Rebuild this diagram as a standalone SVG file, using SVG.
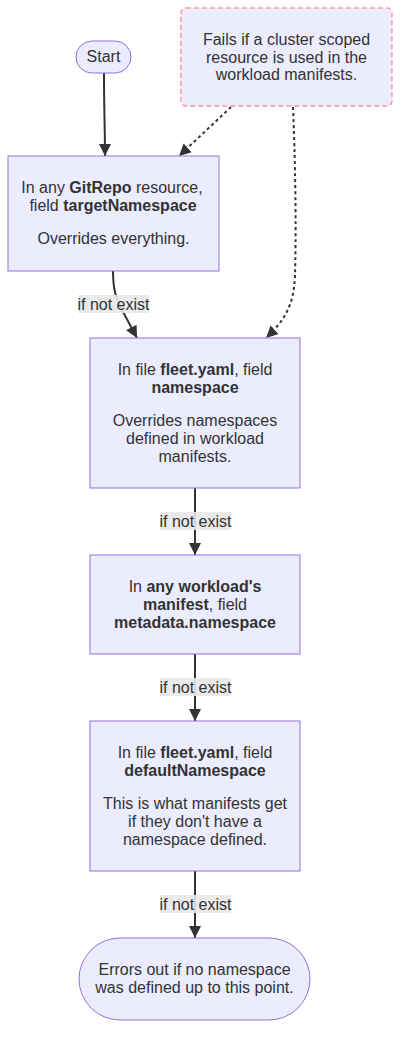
<svg xmlns="http://www.w3.org/2000/svg" width="408" height="1046" viewBox="0 0 408 1046">
<style>
.n{fill:#ECECFF;stroke:#9370DB;stroke-width:1}
.t{font-family:"Liberation Sans",Arial,sans-serif;font-size:16px;fill:#333;text-anchor:middle}
.b{font-weight:bold}
.e{fill:none;stroke:#333;stroke-width:2}
.d{fill:none;stroke:#333;stroke-width:2;stroke-dasharray:3 3}
.lb{fill:#e8e8e8;opacity:0.9}
</style>
<defs>
<marker id="ah" viewBox="0 0 12 12" refX="12" refY="6" markerWidth="12" markerHeight="12" markerUnits="userSpaceOnUse" orient="auto">
<path d="M0,0 L12,6 L0,12 z" fill="#333"/>
</marker>
</defs>
<rect width="408" height="1046" fill="#fff"/>
<g id="connectors">
<path class="e" d="M104,73 C104,110 105,130 105,156" marker-end="url(#ah)"/>
<path class="e" d="M113,271 C113,290 116,298 122,310 L137,338" marker-end="url(#ah)"/>
<path class="d" d="M231,107 L179,156" marker-end="url(#ah)"/>
<path class="d" d="M293,107 C296,180 296,240 295,275 C294,305 285,320 266,338" marker-end="url(#ah)"/>
<path class="e" d="M195,488 L195,555" marker-end="url(#ah)"/>
<path class="e" d="M195,654 L195,721" marker-end="url(#ah)"/>
<path class="e" d="M195,871 L195,938" marker-end="url(#ah)"/>
<rect class="lb" x="78" y="295" width="71" height="18"/>
<text class="t" x="113.5" y="310">if not exist</text>
<rect class="lb" x="160" y="512" width="71" height="18"/>
<text class="t" x="195.5" y="527">if not exist</text>
<rect class="lb" x="160" y="678" width="71" height="18"/>
<text class="t" x="195.5" y="693">if not exist</text>
<rect class="lb" x="160" y="895" width="71" height="18"/>
<text class="t" x="195.5" y="910">if not exist</text>
</g>
<g id="start">
<rect class="n" x="76" y="41" width="55" height="32" rx="16"/>
<text class="t" x="103.5" y="62">Start</text>
</g>
<g id="fails">
<rect x="181" y="8" width="211" height="98" rx="5" fill="#ECECFF" stroke="#f99" stroke-width="1.5" stroke-dasharray="5 3"/>
<text class="t" x="286.5" y="45">Fails if a cluster scoped</text>
<text class="t" x="286.5" y="62.5">resource is used in the</text>
<text class="t" x="286.5" y="80">workload manifests.</text>
</g>
<g id="gitrepo">
<rect class="n" x="8" y="156" width="211" height="115"/>
<text class="t" x="112" y="193">In any <tspan class="b">GitRepo</tspan> resource,</text>
<text class="t" x="113" y="211">field <tspan class="b">targetNamespace</tspan></text>
<text class="t" x="113.5" y="244">Overrides everything.</text>
</g>
<g id="fleetns">
<rect class="n" x="90" y="338" width="210" height="150"/>
<text class="t" x="195" y="375">In file <tspan class="b">fleet.yaml</tspan>, field</text>
<text class="t b" x="195" y="393">namespace</text>
<text class="t" x="195" y="426">Overrides namespaces</text>
<text class="t" x="195" y="444">defined in workload</text>
<text class="t" x="195" y="461.5">manifests.</text>
</g>
<g id="workload">
<rect class="n" x="90" y="555" width="210" height="99"/>
<text class="t" x="195" y="592">In <tspan class="b">any workload's</tspan></text>
<text class="t" x="195" y="610"><tspan class="b">manifest</tspan>, field</text>
<text class="t b" x="195" y="628">metadata.namespace</text>
</g>
<g id="defaultns">
<rect class="n" x="90" y="721" width="210" height="150"/>
<text class="t" x="195" y="758">In file <tspan class="b">fleet.yaml</tspan>, field</text>
<text class="t b" x="195" y="776">defaultNamespace</text>
<text class="t" x="195" y="809">This is what manifests get</text>
<text class="t" x="195" y="827">if they don't have a</text>
<text class="t" x="195" y="845">namespace defined.</text>
</g>
<g id="errors">
<rect class="n" x="79" y="938" width="231" height="82" rx="41"/>
<text class="t" x="194.5" y="975">Errors out if no namespace</text>
<text class="t" x="194.5" y="993">was defined up to this point.</text>
</g>
</svg>
